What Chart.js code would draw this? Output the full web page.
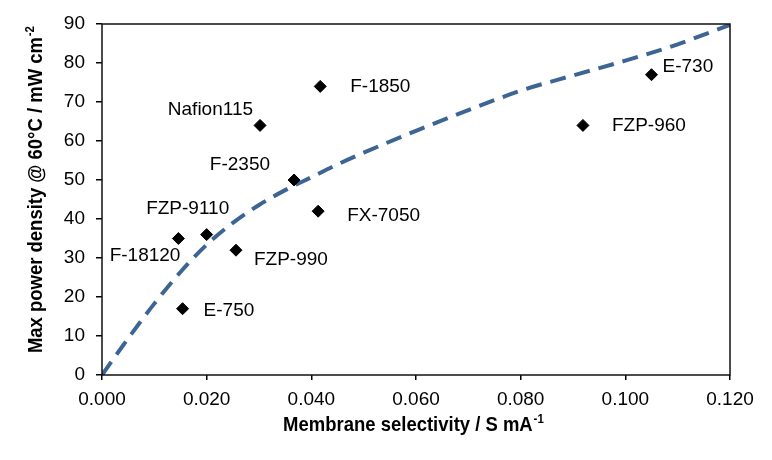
<!DOCTYPE html>
<html>
<head>
<meta charset="utf-8">
<title>Membrane selectivity vs max power density</title>
<script src="https://cdn.jsdelivr.net/npm/chart.js@4.4.1/dist/chart.umd.min.js"></script>
<style>
    body { margin: 0; background: #fff; }
    #wrap { width: 772px; height: 460px; }
</style>
</head>
<body>
<div id="wrap"><canvas id="chartSelectivity" width="772" height="460"></canvas></div>
<script>
// dữ liệu các màng
var memNames = ["Nafion115", "F-1850", "F-2350", "FX-7050", "F-18120", "FZP-9110", "FZP-990", "E-750", "E-730", "FZP-960"];
var memSelectivity = [0.0302, 0.0417, 0.0367, 0.0413, 0.0146, 0.0200, 0.0256, 0.0154, 0.1050, 0.0919];
var memPower = [64, 74, 50, 42, 35, 36, 32, 17, 77, 64];

// đường xu hướng (nét đứt)
var trendX = [0, 0.005, 0.010, 0.015, 0.020, 0.025, 0.030, 0.035, 0.040, 0.045, 0.050, 0.060, 0.070, 0.080, 0.090, 0.100, 0.110, 0.120];
var trendY = [0, 9.4, 18.3, 26.4, 33.4, 39.0, 43.6, 47.4, 50.7, 54.0, 57.0, 62.6, 67.9, 72.9, 76.8, 80.6, 84.8, 89.8];

// nhãn trục
var xTicks = [0, 0.02, 0.04, 0.06, 0.08, 0.10, 0.12];
var yTicks = [0, 10, 20, 30, 40, 50, 60, 70, 80, 90];

// vị trí chữ cạnh mỗi điểm: [dx, dy, canh lề]
var labelOffsets = [
    [-7, -16, "right"],
    [30, 0, "left"],
    [-24, -15, "right"],
    [29, 5, "left"],
    [2, 17, "right"],
    [-19, -26, "center"],
    [18, 10, "left"],
    [21, 2, "left"],
    [11, -8, "left"],
    [29, 0, "left"]
];

var FONT = '"Liberation Sans", Arial, sans-serif';

var scatterData = [];
for (let i = 0; i < memNames.length; i++) {
    scatterData.push({ x: memSelectivity[i], y: memPower[i] });
}
var trendData = [];
for (let i = 0; i < trendX.length; i++) {
    trendData.push({ x: trendX[i], y: trendY[i] });
}

// vẽ chữ có số mũ (tiêu đề trục)
function drawSupText(ctx, main, sup, cx, baseY) {
    ctx.font = "bold 21px " + FONT;
    var wMain = ctx.measureText(main).width;
    ctx.font = "bold 13px " + FONT;
    var wSup = ctx.measureText(sup).width;
    var start = cx - (wMain + wSup) / 2;
    ctx.textAlign = "left";
    ctx.textBaseline = "alphabetic";
    ctx.font = "bold 21px " + FONT;
    ctx.fillText(main, start, baseY);
    ctx.font = "bold 13px " + FONT;
    ctx.fillText(sup, start + wMain + 1, baseY - 8);
}

var extrasPlugin = {
    id: "extras",
    afterDatasetsDraw: function(chart) {
        var ctx = chart.ctx;
        var sx = chart.scales.x;
        var sy = chart.scales.y;
        ctx.save();
        ctx.font = "19px " + FONT;
        ctx.fillStyle = "#000";
        ctx.textBaseline = "middle";
        for (let i = 0; i < memNames.length; i++) {
            var px = sx.getPixelForValue(memSelectivity[i]);
            var py = sy.getPixelForValue(memPower[i]);
            var o = labelOffsets[i];
            ctx.textAlign = o[2];
            ctx.fillText(memNames[i], px + o[0], py + o[1]);
        }
        ctx.restore();
    },
    afterDraw: function(chart) {
        var ctx = chart.ctx;
        var a = chart.chartArea;
        ctx.save();
        // khung quanh vùng vẽ
        ctx.strokeStyle = "#111";
        ctx.lineWidth = 1.5;
        ctx.strokeRect(a.left, a.top, a.right - a.left, a.bottom - a.top);

        ctx.fillStyle = "#000";
        // tiêu đề trục x
        ctx.save();
        ctx.translate(413, 431);
        ctx.scale(0.88, 1);
        drawSupText(ctx, "Membrane selectivity / S mA", "-1", 0, 0);
        ctx.restore();
        // tiêu đề trục y
        ctx.save();
        ctx.translate(42, 190);
        ctx.rotate(-Math.PI / 2);
        ctx.scale(0.88, 1);
        drawSupText(ctx, "Max power density @ 60°C / mW cm", "-2", 0, 0);
        ctx.restore();
        ctx.restore();
    }
};

var ctxSel = document.getElementById("chartSelectivity").getContext("2d");
new Chart(ctxSel, {
    type: "scatter",
    data: {
        datasets: [{
            label: "Membranes",
            data: scatterData,
            pointStyle: "rectRot",
            pointRadius: 6,
            pointBackgroundColor: "#000",
            pointBorderColor: "#000",
            pointBorderWidth: 1,
            order: 0
        }, {
            type: "line",
            label: "Trend",
            data: trendData,
            borderColor: "#3d6594",
            borderWidth: 4,
            borderDash: [16, 9],
            borderCapStyle: "butt",
            pointRadius: 0,
            fill: false,
            cubicInterpolationMode: "monotone",
            order: 1
        }]
    },
    options: {
        responsive: false,
        animation: false,
        devicePixelRatio: 1,
        layout: { padding: { top: 24, right: 42, left: 0, bottom: 0 } },
        plugins: {
            legend: { display: false },
            tooltip: { enabled: false }
        },
        scales: {
            x: {
                type: "linear",
                min: 0,
                max: 0.12,
                border: { display: false },
                grid: { drawOnChartArea: false, drawTicks: true, tickLength: 5, color: "#000", lineWidth: 1.5 },
                ticks: {
                    color: "#000",
                    padding: 8,
                    font: { family: FONT, size: 19 },
                    callback: function(v) { return Number(v).toFixed(3); }
                },
                afterBuildTicks: function(axis) {
                    axis.ticks = xTicks.map(function(v) { return { value: v }; });
                },
                afterFit: function(axis) { axis.height = 85; }
            },
            y: {
                type: "linear",
                min: 0,
                max: 90,
                border: { display: false },
                grid: { drawOnChartArea: false, drawTicks: true, tickLength: 6, color: "#000", lineWidth: 1.5 },
                ticks: {
                    color: "#000",
                    padding: 11,
                    font: { family: FONT, size: 19 }
                },
                afterBuildTicks: function(axis) {
                    axis.ticks = yTicks.map(function(v) { return { value: v }; });
                },
                afterFit: function(axis) { axis.width = 102; }
            }
        }
    },
    plugins: [extrasPlugin]
});
</script>
</body>
</html>
